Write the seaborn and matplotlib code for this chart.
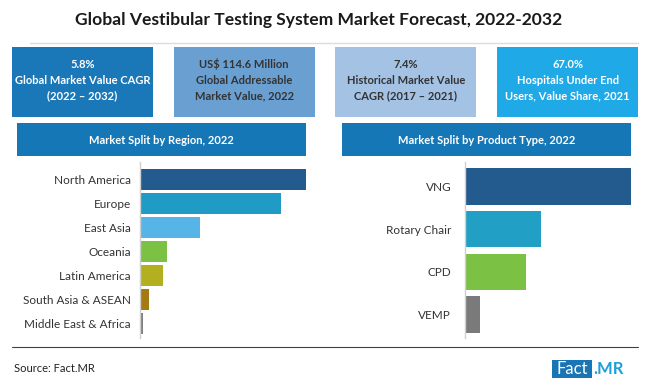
import matplotlib
matplotlib.use("Agg")
import matplotlib.pyplot as plt
from matplotlib.patches import Rectangle
import pandas as pd
import seaborn as sns

# data (share of market, %)
regions = ["North America", "Europe", "East Asia", "Oceania",
           "Latin America", "South Asia & ASEAN", "Middle East & Africa"]
region_share = [38.7, 32.9, 14.0, 6.3, 5.4, 2.1, 0.7]
region_colors = ["#245b8f", "#1f9bc6", "#56b4e6", "#7bc143",
                 "#b3b01f", "#a47b10", "#808080"]

products = ["VNG", "Rotary Chair", "CPD", "VEMP"]
product_share = [52.1, 24.0, 19.2, 4.7]
product_colors = ["#245b8f", "#229fc5", "#7bc143", "#7a7a7a"]

kpi_lines = [
    ["5.8%", "Global Market Value CAGR", "(2022 \u2013 2032)"],
    ["US$ 114.6 Million", "Global Addressable", "Market Value, 2022"],
    ["7.4%", "Historical Market Value", "CAGR (2017 \u2013 2021)"],
    ["67.0%", "Hospitals Under End", "Users, Value Share, 2021"],
]
kpi_fill = ["#1a78b8", "#6a9fd2", "#a4c2e4", "#1fa9e6"]
kpi_text = ["white", "#333333", "#333333", "white"]

title = "Global Vestibular Testing System Market Forecast, 2022-2032"
panel_titles = ["Market Split by Region, 2022", "Market Split by Product Type, 2022"]

sns.set_style("white")
plt.rcParams["font.family"] = ["Lato", "DejaVu Sans"]

fig = plt.figure(figsize=(6.5, 3.85), dpi=100)

# background axes in pixel coordinates for the decorations
bg = fig.add_axes([0, 0, 1, 1], zorder=0)
bg.set_xlim(0, 650)
bg.set_ylim(385, 0)
bg.axis("off")

bg.text(319, 20, title, ha="center", va="center", fontsize=12.6,
        fontweight="bold", color="#1a1a1a")
bg.plot([30, 638], [43, 43], color="#e2dada", lw=1)

for i, lines in enumerate(kpi_lines):
    x0 = 12 + i * 161.7
    bg.add_patch(Rectangle((x0, 47), 141, 70, color=kpi_fill[i], lw=0))
    for j, line in enumerate(lines):
        bg.text(x0 + 70.5, 64 + j * 16, line, ha="center", va="center",
                fontsize=8, fontweight="bold", color=kpi_text[i])

for x0, txt in zip([17, 342], panel_titles):
    bg.add_patch(Rectangle((x0, 123), 289, 33, color="#1677b7", lw=0))
    bg.text(x0 + 144.5, 140, txt, ha="center", va="center",
            fontsize=8, fontweight="bold", color="white")

bg.plot([12, 638], [347, 347], color="#404040", lw=0.8)
bg.text(14, 368, "Source: Fact.MR", ha="left", va="center", fontsize=8, color="#222222")
bg.add_patch(Rectangle((552, 360), 40, 18, color="#1a75b5", lw=0))
bg.text(572, 369, "Fact", ha="center", va="center", fontsize=12, color="white")
bg.text(593, 369, ".MR", ha="left", va="center", fontsize=12,
        fontweight="bold", color="#1f9fd9")


def split_chart(rect, cats, vals, colors, width, ylim, pad):
    ax = fig.add_axes(rect, zorder=1)
    ax.patch.set_alpha(0)
    df = pd.DataFrame({"cat": cats, "val": vals})
    sns.barplot(data=df, x="val", y="cat", hue="cat", palette=colors,
                legend=False, width=width, saturation=1, linewidth=0,
                orient="h", ax=ax)
    ax.set_xlim(0, max(vals) * 170 / 166)
    ax.set_ylim(*ylim)
    ax.set_xlabel("")
    ax.set_ylabel("")
    ax.set_xticks([])
    ax.tick_params(axis="y", length=0, pad=pad, labelsize=8.5, labelcolor="#333333")
    for s in ["top", "right", "bottom"]:
        ax.spines[s].set_visible(False)
    ax.spines["left"].set_color("#d0d0d0")
    ax.spines["left"].set_linewidth(1)
    return ax


split_chart([140 / 650, 1 - 338 / 385, 170 / 650, 176 / 385],
            regions, region_share, region_colors, 0.87, (6.6, -0.73), 6.5)
split_chart([465 / 650, 1 - 338 / 385, 170 / 650, 176 / 385],
            products, product_share, product_colors, 0.85, (3.55, -0.57), 10)

fig.savefig("out.png", dpi=100)
